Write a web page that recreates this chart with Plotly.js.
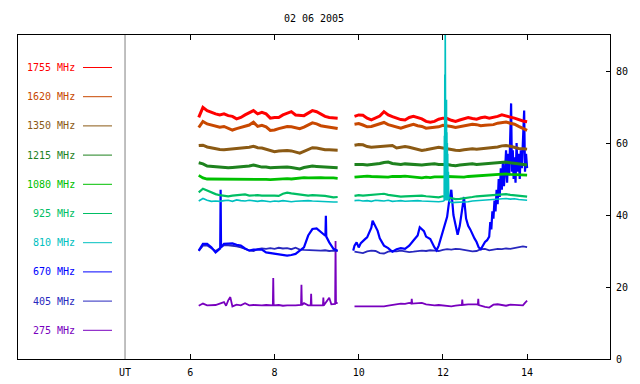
<!DOCTYPE html>
<html>
<head>
<meta charset="utf-8">
<script src="https://cdn.plot.ly/plotly-3.0.1.min.js"></script>
<style>html,body{margin:0;padding:0;background:#fff;}#chart{width:640px;height:384px;}</style>
</head>
<body>
<div id="chart"></div>
<script>
// ---- data (UT hours, flux values) ----
const freqLabels = ['1755 MHz','1620 MHz','1350 MHz','1215 MHz','1080 MHz','925 MHz','810 MHz','670 MHz','405 MHz','275 MHz'];
const colors = ['#ff0000','#c84800','#8b5a14','#1e821e','#00c000','#00be64','#00c0c0','#0000ff','#2828be','#7800be'];

const tA = [6.2,6.3,6.4,6.5,6.6,6.7,6.8,6.9,7.0,7.1,7.2,7.3,7.4,7.5,7.6,7.7,7.8,7.9,8.0,8.1,8.2,8.3,8.4,8.5,8.6,8.7,8.8,8.9,9.0,9.1,9.2,9.3,9.4,9.5,
  9.7,
  9.9,10.0,10.1,10.2,10.3,10.4,10.5,10.6,10.7,10.8,10.9,11.0,11.1,11.2,11.3,11.4,11.5,11.6,11.7,11.8,11.9,12.0,12.1,12.2,12.3,12.4,12.5,12.6,12.7,12.8,12.9,13.0,13.1,13.2,13.3,13.4,13.5,13.6,13.7,13.8,13.9,14.0];

const f1755 = [67.1,69.9,69.0,68.5,68.1,67.8,68.1,67.6,67.4,66.7,67.1,67.8,68.3,69.0,68.1,68.5,68.1,66.9,67.1,67.1,67.8,68.3,68.7,67.8,67.8,67.6,68.3,69.0,68.7,68.1,67.4,67.1,67.1,66.9,
  null,
  67.4,67.8,67.7,66.9,66.4,66.9,67.5,68.7,67.8,67.3,66.9,66.5,66.4,67.1,67.4,67.1,66.7,66.0,65.8,66.0,66.6,66.9,66.8,66.3,66.0,66.4,66.7,67.1,66.8,66.6,67.0,67.2,66.9,67.1,67.4,67.8,67.6,67.2,66.9,66.4,66.1,65.9];
const f1620 = [64.3,66.0,65.3,65.0,64.6,64.4,64.6,64.2,63.6,64.0,64.3,64.8,65.0,65.8,64.6,64.9,64.5,63.5,63.6,64.0,64.4,64.6,64.5,64.2,64.0,64.4,64.9,65.6,65.3,64.8,64.6,64.4,64.0,64.0,
  null,
  65.2,65.4,65.0,64.5,64.6,64.9,65.4,65.7,65.1,64.7,64.3,64.1,64.5,64.8,65.2,64.8,64.6,64.1,64.2,64.3,64.5,64.9,64.8,64.6,64.3,64.5,64.9,65.0,65.2,65.1,64.8,64.9,64.9,65.1,65.5,65.6,65.8,65.5,65.2,64.6,64.0,63.5];
const f1350 = [59.3,59.4,58.9,58.6,58.4,58.2,58.1,58.2,58.3,58.4,58.5,58.7,58.8,59.1,58.7,58.6,58.2,57.8,57.6,57.8,57.9,57.9,57.8,57.6,57.2,57.7,58.3,58.7,58.6,58.3,58.1,58.1,58.0,58.0,
  null,
  59.4,59.6,59.5,59.0,58.8,58.9,59.1,59.0,59.2,59.3,58.6,58.7,59.0,58.8,58.5,58.1,57.9,58.1,58.4,58.6,58.8,58.6,58.3,58.2,58.0,57.9,58.1,58.3,58.4,58.3,58.4,58.5,58.7,58.8,58.9,59.2,59.3,59.1,58.7,58.5,58.4,58.3];
const f1215 = [54.5,54.2,53.6,53.5,53.3,53.2,53.3,53.1,53.2,53.3,53.2,53.4,53.6,53.9,53.5,53.3,53.3,53.1,53.2,53.3,53.4,53.3,53.2,53.0,52.8,53.2,53.5,53.6,53.5,53.4,53.3,53.2,53.2,53.1,
  null,
  54.0,54.1,54.0,53.9,54.0,54.1,54.3,54.6,54.7,54.3,54.1,54.0,54.2,54.1,53.9,53.8,53.9,54.0,54.1,54.2,54.0,54.1,54.0,53.8,53.7,53.9,54.0,54.0,54.2,54.0,54.1,54.2,54.3,54.4,54.5,54.8,54.7,54.5,54.3,54.2,54.0,53.9];
const f1080 = [51.0,50.3,50.0,50.0,50.0,49.9,50.0,50.0,49.9,49.9,50.1,50.1,50.0,50.1,50.0,50.1,49.9,49.8,49.9,50.0,50.1,50.1,50.0,50.2,50.4,50.4,50.3,50.4,50.5,50.4,50.3,50.4,50.3,50.2,
  null,
  50.5,50.6,50.8,50.8,50.7,50.6,50.7,50.6,50.5,50.7,50.6,50.7,50.8,50.7,50.6,50.4,50.3,50.5,50.4,50.6,50.5,50.6,50.7,50.6,50.5,50.6,50.5,50.7,50.8,50.9,51.0,50.9,51.0,51.1,51.2,51.3,51.4,51.3,51.2,51.3,51.2,51.1];
const f925 = [46.3,47.3,46.8,46.2,45.8,45.5,45.3,45.2,45.4,45.5,45.8,45.7,45.4,45.5,45.5,45.4,45.3,45.4,45.4,45.3,45.9,46.2,46.0,45.8,45.6,45.5,45.4,45.5,45.5,45.4,45.3,45.1,44.9,45.0,
  null,
  45.3,45.5,45.4,45.5,45.4,45.6,45.8,45.9,45.6,45.4,45.3,45.1,45.2,45.3,45.4,45.3,45.4,45.2,45.1,45.0,44.9,45.2,45.0,44.6,44.4,44.5,44.6,44.8,45.0,45.2,45.3,45.4,45.5,45.6,45.8,45.9,45.8,45.6,45.5,45.4,45.2,45.1];
const f405 = [30.0,31.5,31.5,30.8,30.0,30.8,31.6,31.6,31.5,31.3,31.0,30.5,30.2,30.0,30.5,30.7,30.6,30.8,30.6,30.9,30.7,30.8,30.5,30.9,30.4,30.3,30.2,30.1,30.2,30.1,30.2,30.0,30.1,30.0,
  null,
  29.8,29.6,29.4,29.9,30.1,30.0,29.4,29.3,29.8,30.0,29.9,30.1,29.9,29.7,29.8,30.0,30.1,30.0,30.2,30.1,30.0,30.3,30.5,30.4,30.6,30.5,30.3,30.1,29.9,30.0,30.5,30.6,30.2,30.4,30.6,30.5,30.7,30.6,30.8,30.9,31.3,31.1];

const t810 = [6.2,6.3,6.4,6.5,6.6,6.7,6.8,6.9,7.0,7.1,7.2,7.3,7.4,7.5,7.6,7.7,7.8,7.9,8.0,8.1,8.2,8.3,8.4,8.5,8.6,8.7,8.8,8.9,9.0,9.1,9.2,9.3,9.4,9.5,
  9.7,
  9.9,10.0,10.1,10.2,10.3,10.4,10.5,10.6,10.7,10.8,10.9,11.0,11.1,11.2,11.3,11.4,11.5,11.6,11.7,11.8,11.9,12.0,
  12.03,12.035,12.04,12.045,12.05,12.055,12.06,12.065,12.07,12.075,12.08,12.085,12.09,12.095,12.10,12.105,12.11,12.115,12.12,12.13,12.14,
  12.2,12.3,12.4,12.5,12.6,12.7,12.8,12.9,13.0,13.1,13.2,13.3,13.4,13.5,13.6,13.7,13.8,13.9,14.0];
const f810 = [43.9,44.6,44.1,43.8,43.9,43.8,44.0,44.1,43.8,44.2,44.0,43.9,44.1,43.9,43.8,44.0,43.9,43.7,43.9,43.8,44.0,43.8,43.7,43.8,43.9,43.8,44.0,43.9,43.8,43.9,43.7,43.6,43.6,43.6,
  null,
  44.0,44.1,43.9,44.0,43.8,44.1,44.0,43.9,44.1,43.8,43.9,44.0,43.8,43.9,44.1,44.0,43.9,43.8,43.9,43.8,43.7,43.8,
  44,62,44,79,46,95,45,82,44,66,45,72,44,63,45,60,44,57,45,52,44,
  43.4,43.5,43.5,43.6,43.7,43.9,44.0,44.1,44.2,44.3,44.4,44.5,44.4,44.6,44.4,44.5,44.3,44.2,44.1];

const t670 = [6.2,6.3,6.4,6.5,6.6,6.7,6.71,6.72,6.73,6.8,6.9,7.0,7.1,7.2,7.3,7.4,7.5,7.6,7.7,7.8,7.9,8.0,8.1,8.2,8.3,8.4,8.5,8.6,8.7,8.8,8.9,9.0,9.1,9.2,9.21,9.22,9.23,9.3,9.4,9.5,
  9.7,
  9.87,9.9,9.95,10.0,10.05,10.1,10.15,10.2,10.25,10.3,10.33,10.4,10.45,10.5,10.6,10.7,10.8,10.9,11.0,11.1,11.2,11.3,11.4,11.45,11.5,11.55,11.6,11.7,11.8,11.85,11.9,11.95,
  12.0,12.05,12.1,12.15,12.2,12.25,12.3,12.35,12.4,12.45,12.5,12.55,12.6,12.65,12.7,12.75,12.8,12.85,12.9,12.95,13.0,13.05,
  13.1,13.125,13.15,13.175,13.2,13.225,13.25,13.275,13.3,13.325,13.35,13.375,13.4,13.425,13.45,13.475,13.5,13.525,13.55,13.575,13.6,13.62,13.64,13.66,13.68,13.7,13.725,13.75,13.775,13.8,13.825,13.85,13.875,13.9,13.93,13.95,13.975,14.0];
const f670 = [30.1,32.0,32.0,31.0,29.6,30.7,30.7,47.0,31.0,32.0,32.0,32.1,31.7,31.5,30.7,30.1,30.4,30.4,30.4,29.6,29.4,29.2,28.9,28.9,28.7,28.9,29.2,30.1,31.0,34.3,36.1,36.3,35.2,34.3,34.3,39.8,34.0,32.4,30.6,30.1,
  null,
  30.1,31.5,32.4,31.0,32.2,32.9,33.3,33.8,35.0,36.5,38.4,37.0,35.6,33.5,31.5,30.8,29.8,30.5,30.8,30.6,31.5,32.9,34.3,36.6,36.0,35.5,34.0,33.3,31.0,30.2,31.5,33.5,
  35.2,37.5,39.5,44.0,47.0,40.0,37.0,34.5,37.0,41.0,45.0,39.0,37.0,36.0,34.5,33.5,32.5,31.0,30.5,31.5,32.5,33.0,
  34,38,36,41,39,44,41,47,43,50,45,53,47,55,48,52,58,49,57,51,61,71,52,58,50,56,49,60,52,57,50,58,53,61,69,52,57,53];

const t275 = [6.2,6.3,6.4,6.5,6.6,6.7,6.8,6.85,6.9,6.95,7.0,7.1,7.2,7.3,7.4,7.5,7.6,7.7,7.8,7.9,7.96,7.97,7.98,8.1,8.2,8.3,8.4,8.5,8.63,8.64,8.65,8.7,8.8,8.86,8.87,8.88,9.0,9.1,9.15,9.16,9.17,9.3,9.35,9.44,9.45,9.46,9.5,
  9.7,
  9.9,10.0,10.1,10.2,10.3,10.4,10.5,10.6,10.7,10.8,10.9,11.0,11.1,11.2,11.25,11.26,11.27,11.4,11.5,11.6,11.7,11.8,11.9,12.0,12.1,12.2,12.3,12.4,12.45,12.46,12.47,12.6,12.7,12.8,12.83,12.84,12.85,12.9,13.0,13.1,13.2,13.3,13.4,13.5,13.6,13.7,13.8,13.9,13.95,14.0];
const f275 = [14.8,15.4,14.9,14.9,15.0,15.4,15.8,14.8,16.3,17.2,14.6,15.1,14.9,15.5,14.9,15.0,14.9,14.9,15.0,14.9,14.9,22.5,14.9,15.0,14.8,14.9,15.0,14.9,15.0,20.6,15.0,15.5,14.9,14.9,18.1,14.9,14.9,14.8,14.9,17.1,14.9,17.0,15.2,15.3,32.8,15.5,15.6,
  null,
  14.6,14.6,14.5,14.6,14.7,14.6,14.7,14.6,14.8,15.0,15.2,15.4,15.3,15.6,15.4,16.7,15.4,15.5,15.6,15.2,15.0,14.9,15.0,14.8,14.7,14.6,14.8,15.0,15.0,16.5,15.0,15.2,15.3,15.2,15.1,16.7,15.0,14.8,14.5,14.3,15.1,15.2,15.0,14.8,15.1,15.0,14.8,14.9,15.6,16.2];

const xTicks = [6,8,10,12,14];
const yTicks = [0,20,40,60,80];

// ---- traces (index into the lists above) ----
const seriesX = [tA,tA,tA,tA,tA,tA,t810,t670,tA,t275];
const seriesY = [f1755,f1620,f1350,f1215,f1080,f925,f810,f670,f405,f275];
const widths  = [3,3,3,3,2.8,2.2,1.6,2.2,1.8,1.8];
const drawOrder = [9,8,7,0,1,2,3,4,5,6];

const traces = drawOrder.map(i=>({
  type:'scatter', mode:'lines', x:seriesX[i], y:seriesY[i],
  line:{color:colors[i], width:widths[i]}, connectgaps:false,
  hoverinfo:'skip', name:freqLabels[i]
}));

// ---- legend drawn at left inside frame ----
const H = 384, mT = 35, mB = 25, plotH = H - mT - mB;
const L = 18, R = 30, plotW = 640 - L - R;
const px2px = x => (x - L)/plotW;
const py2py = y => 1 - (y - mT)/plotH;

const shapes = [];
const annotations = [];
freqLabels.forEach((lab,i)=>{
  const yy = 67.5 + 29.2*i;
  shapes.push({type:'line', xref:'paper', yref:'paper', x0:px2px(83), x1:px2px(112), y0:py2py(yy), y1:py2py(yy),
    line:{color:colors[i], width:1}});
  annotations.push({xref:'paper', yref:'paper', x:px2px(77), y:py2py(yy), xanchor:'right', yanchor:'middle',
    text:lab, showarrow:false, font:{color:colors[i], size:10, family:'DejaVu Sans Mono, monospace'}});
});
// separator between legend and plot
shapes.push({type:'line', xref:'x', yref:'paper', x0:4.449, x1:4.449, y0:0, y1:1, line:{color:'#808080', width:1}});
annotations.push({xref:'x', yref:'paper', x:4.449, y:py2py(372), xanchor:'center', yanchor:'middle', text:'UT',
  showarrow:false, font:{size:10, color:'black', family:'DejaVu Sans Mono, monospace'}});

const layout = {
  width:640, height:384,
  margin:{l:L, r:R, t:mT, b:mB, pad:0},
  paper_bgcolor:'#ffffff', plot_bgcolor:'#ffffff',
  showlegend:false,
  font:{family:'DejaVu Sans Mono, monospace', size:10, color:'black'},
  title:{text:'02 06 2005', x:0.5, xref:'paper', xanchor:'center', y:1-18/384, yref:'container', yanchor:'middle',
    font:{size:10, color:'black', family:'DejaVu Sans Mono, monospace'}},
  xaxis:{range:[1.907,15.969], tickvals:xTicks, ticktext:xTicks.map(String), ticks:'inside', ticklen:5, tickcolor:'black',
    showline:true, linecolor:'black', linewidth:1, mirror:'ticks', showgrid:false, zeroline:false, ticklabelstandoff:4},
  yaxis:{range:[0,90], side:'right', tickvals:yTicks, ticktext:yTicks.map(String), ticks:'inside', ticklen:4, tickcolor:'black',
    showline:true, linecolor:'black', linewidth:1, mirror:true, showgrid:false, zeroline:false, ticklabelstandoff:3},
  shapes:shapes, annotations:annotations
};

Plotly.newPlot('chart', traces, layout, {staticPlot:true, displayModeBar:false});
</script>
</body>
</html>
